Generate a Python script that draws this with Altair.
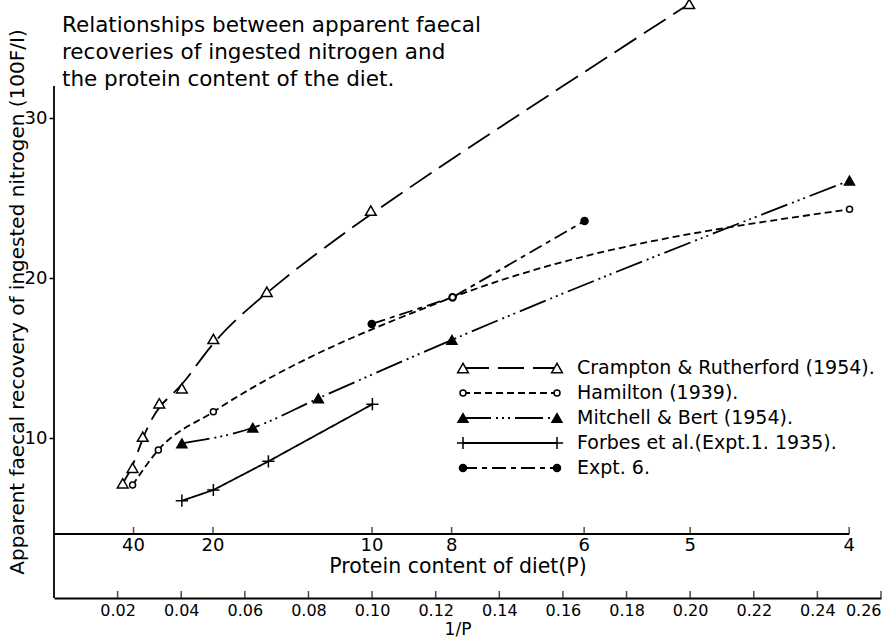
import altair as alt
import pandas as pd

FONT = "DejaVu Sans"

# ---------------- text ----------------
title_lines = [
    "Relationships between apparent faecal",
    "recoveries of ingested nitrogen and",
    "the protein content of the diet.",
]
y_title = "Apparent faecal recovery of ingested nitrogen (100F/I)"
x_title = "1/P"
p_title = "Protein content of diet(P)"

# ---------------- data ----------------
crampton_x = [0.0216, 0.0247, 0.0279, 0.0331, 0.0402, 0.0501, 0.0669, 0.0996, 0.1997]
crampton_y = [7.17, 8.14, 10.08, 12.17, 13.11, 16.19, 19.14, 24.21, 37.13]

hamilton_x = [0.0247, 0.0328, 0.0501, 0.1253, 0.2501]
hamilton_y = [7.06, 9.25, 11.64, 18.79, 24.29]

mitchell_x = [0.0402, 0.0625, 0.0831, 0.1251, 0.2501]
mitchell_y = [9.66, 10.64, 12.48, 16.13, 26.09]

forbes_x = [0.0402, 0.0501, 0.0674, 0.1001]
forbes_y = [6.08, 6.75, 8.54, 12.11]

expt6_x = [0.0999, 0.1253, 0.1668]
expt6_y = [17.13, 18.79, 23.56]

x_ticks = [0.02, 0.04, 0.06, 0.08, 0.10, 0.12, 0.14, 0.16, 0.18, 0.20, 0.22, 0.24, 0.26]
y_ticks = [10, 20, 30]
protein_ticks = [40, 20, 10, 8, 6, 5, 4]
protein_axis_y = 4.0
y_axis_top = 32

names = [
    "Crampton & Rutherford (1954).",
    "Hamilton (1939).",
    "Mitchell & Bert (1954).",
    "Forbes et al.(Expt.1. 1935).",
    "Expt. 6.",
]
series_x = [crampton_x, hamilton_x, mitchell_x, forbes_x, expt6_x]
series_y = [crampton_y, hamilton_y, mitchell_y, forbes_y, expt6_y]

# ---------------- styles ----------------
PLUS = "M-1,0H1M0,-1V1"
styles = [
    dict(dash=[26, 9], interp="basis", shape="triangle-up", fill="white", size=115),
    dict(dash=[7, 4], interp="monotone", shape="circle", fill="white", size=36),
    dict(dash=[28, 5, 2, 4, 2, 4, 2, 5], interp="monotone", shape="triangle-up", fill="black", size=100),
    dict(dash=[1, 0], interp="linear", shape=PLUS, fill=None, size=150),
    dict(dash=[14, 5, 5, 5], interp="linear", shape="circle", fill="black", size=50),
]
LW = 1.8

xs = alt.Scale(domain=[0, 0.26], nice=False, zero=False)
ys = alt.Scale(domain=[0, 37], nice=False, zero=False)
x_axis = alt.Axis(values=x_ticks, format=".2f", ticks=False, grid=False, title=None,
                  labelFont=FONT, labelFontSize=16, labelColor="black",
                  domainColor="black", domainWidth=LW, labelPadding=4)
y_axis = alt.Axis(values=y_ticks, grid=False, title=None, domain=False,
                  tickColor="black", tickWidth=1.5, tickSize=5,
                  labelFont=FONT, labelFontSize=18, labelColor="black", labelPadding=2)
X = alt.X("x:Q", scale=xs, axis=x_axis)
Y = alt.Y("y:Q", scale=ys, axis=y_axis)


def point_mark(st):
    if st["fill"] is None:
        return dict(shape=st["shape"], filled=False, stroke="black", strokeWidth=1.5,
                    size=st["size"], opacity=1)
    return dict(shape=st["shape"], filled=True, fill=st["fill"], stroke="black",
                strokeWidth=1.5, size=st["size"], opacity=1)


layers = []

# left axis line
layers.append(
    alt.Chart(pd.DataFrame({"x": [0], "y": [0], "y2": [y_axis_top]}))
    .mark_rule(color="black", strokeWidth=LW)
    .encode(x=X, y=Y, y2="y2:Q")
)
# bottom axis ticks (pointing up)
layers.append(
    alt.Chart(pd.DataFrame({"x": x_ticks, "y": [0] * len(x_ticks)}))
    .mark_tick(orient="vertical", size=7, thickness=1.5, color="black", yOffset=-3.5)
    .encode(x=X, y=Y)
)
# protein content axis
pdf = pd.DataFrame({"x": [1 / p for p in protein_ticks], "y": [protein_axis_y] * len(protein_ticks),
                    "P": [str(p) for p in protein_ticks]})
layers.append(
    alt.Chart(pd.DataFrame({"x": [0], "x2": [1 / min(protein_ticks)], "y": [protein_axis_y]}))
    .mark_rule(color="black", strokeWidth=LW)
    .encode(x=X, x2="x2:Q", y=Y)
)
layers.append(
    alt.Chart(pdf).mark_tick(orient="vertical", size=7, thickness=1.5, color="black", yOffset=-3.5)
    .encode(x=X, y=Y)
)
layers.append(
    alt.Chart(pdf).mark_text(baseline="top", dy=3, font=FONT, fontSize=18, color="black")
    .encode(x=X, y=Y, text="P:N")
)

# series
for i, (nm, sx, sy, st) in enumerate(zip(names, series_x, series_y, styles)):
    df = pd.DataFrame({"x": sx, "y": sy, "series": nm})
    layers.append(
        alt.Chart(df).mark_line(color="black", strokeWidth=LW, strokeDash=st["dash"],
                                interpolate=st["interp"], clip=False)
        .encode(x=X, y=Y)
    )
# markers (Expt 6 first so Hamilton open circle stays visible on top)
for i in [4, 0, 2, 3, 1]:
    df = pd.DataFrame({"x": series_x[i], "y": series_y[i]})
    layers.append(alt.Chart(df).mark_point(clip=False, **point_mark(styles[i])).encode(x=X, y=Y))

# legend
LEG_X1, LEG_X2, LEG_TX, LEG_Y0, LEG_DY = 409, 503, 523, 362, 25
for i, (nm, st) in enumerate(zip(names, styles)):
    ly = LEG_Y0 + LEG_DY * i
    ldf = pd.DataFrame({"label": [nm]})
    layers.append(
        alt.Chart(ldf).mark_rule(color="black", strokeWidth=LW, strokeDash=st["dash"])
        .encode(x=alt.value(LEG_X1), x2=alt.value(LEG_X2), y=alt.value(ly))
    )
    for lx in (LEG_X1, LEG_X2):
        layers.append(
            alt.Chart(ldf).mark_point(**point_mark(st)).encode(x=alt.value(lx), y=alt.value(ly))
        )
    layers.append(
        alt.Chart(ldf).mark_text(align="left", baseline="middle", font=FONT, fontSize=19, color="black")
        .encode(x=alt.value(LEG_TX), y=alt.value(ly), text="label:N")
    )

# titles
for k, line in enumerate(title_lines):
    layers.append(
        alt.Chart(pd.DataFrame({"t": [line]}))
        .mark_text(align="left", baseline="alphabetic", font=FONT, fontSize=21.5, color="black")
        .encode(x=alt.value(8), y=alt.value(26 + 27 * k), text="t:N")
    )
layers.append(
    alt.Chart(pd.DataFrame({"t": [y_title]}))
    .mark_text(align="center", baseline="middle", angle=270, font=FONT, fontSize=20, color="black")
    .encode(x=alt.value(-36), y=alt.value(296), text="t:N")
)
layers.append(
    alt.Chart(pd.DataFrame({"t": [p_title]}))
    .mark_text(align="center", baseline="middle", font=FONT, fontSize=20.5, color="black")
    .encode(x=alt.value(404), y=alt.value(561), text="t:N")
)
layers.append(
    alt.Chart(pd.DataFrame({"t": [x_title]}))
    .mark_text(align="center", baseline="middle", font=FONT, fontSize=17, color="black")
    .encode(x=alt.value(404), y=alt.value(624), text="t:N")
)

chart = (
    alt.layer(*layers)
    .properties(width=827, height=592,
                padding={"left": 54, "top": 6, "right": 15, "bottom": 43},
                autosize=alt.AutoSizeParams(type="none"),
                background="white")
    .configure_view(stroke=None)
)

chart.save("out.html", embed_options={"renderer": "svg", "actions": False})
